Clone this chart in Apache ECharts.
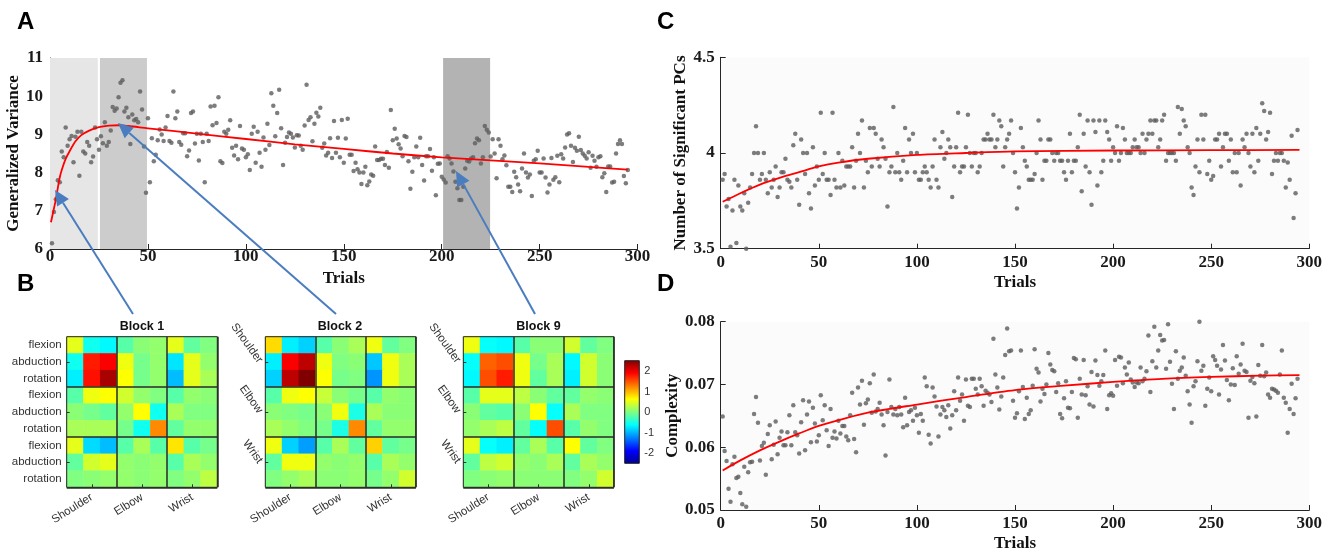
<!DOCTYPE html>
<html><head><meta charset="utf-8">
<script src="https://cdn.jsdelivr.net/npm/echarts@6/dist/echarts.min.js"></script>
<style>html,body{margin:0;padding:0;background:#fff}#chart{width:1336px;height:553px}</style>
</head><body><div id="chart"></div>
<script>
// ---------------- DATA ----------------
const jointNames = ['Shoulder', 'Elbow', 'Wrist'];
const dofNames = ['flexion', 'abduction', 'rotation'];
const xTicks = [0, 50, 100, 150, 200, 250, 300];

// Panel A: generalized variance per trial (trial = index + 1)
const generalizedVariance = [
6.15,6.97,7.3,7.8,7.75,8.55,8.4,9.18,8.7,8.87,
8.96,8.27,8.94,9.07,7.92,9.07,8.55,8.5,8.8,8.7,
8.27,8.42,9.18,8.87,8.6,8.95,8.77,9.32,8.7,8.8,
9.1,9.72,9.62,9.68,9.97,10.35,10.42,9.6,9.7,9.45,
8.75,9.52,9.37,9.4,9.32,10.12,9.65,8.68,7.47,9.42,
7.75,8.9,8.3,8.47,8.85,9.13,9.0,8.83,9.18,9.48,
8.83,8.78,10.12,9.42,9.6,8.8,8.73,9.03,9.03,8.43,
8.58,9.56,9.6,8.76,9.02,8.32,9.02,8.8,7.75,9.02,
8.83,9.73,9.24,9.75,9.3,9.97,8.3,8.25,9.07,9.02,
9.12,9.37,8.65,8.45,8.7,8.35,9.22,8.63,8.6,8.4,
8.48,8.07,9.02,9.2,8.26,9.07,8.52,8.15,8.92,8.6,
9.28,8.72,10.08,9.75,8.95,9.56,10.17,9.16,8.2,8.78,
8.93,9.05,9.02,8.92,8.66,8.98,8.97,8.7,8.6,9.23,
10.3,9.38,9.45,8.82,9.28,9.57,9.47,9.7,8.65,8.76,
8.45,8.52,8.9,8.38,9.35,
8.52,8.91,8.4,9.38,8.26,8.89,9.41,8.47,8.47,
8.04,8.26,8.09,8.0,7.7,8.0,8.15,7.67,7.77,7.95,
7.92,8.68,8.33,8.33,8.36,8.36,8.2,8.54,8.13,9.64,
8.85,9.15,8.89,8.74,8.63,8.43,8.96,8.93,8.3,7.58,
8.02,8.4,8.68,8.4,8.91,8.2,7.79,8.43,8.43,8.62,
8.05,8.4,7.41,8.23,8.24,7.89,7.82,7.74,8.43,8.37,
8.24,8.03,7.76,7.59,7.28,7.28,7.63,8.11,8.31,8.29,
8.37,8.4,8.77,8.89,8.85,8.24,8.4,9.22,9.12,9.05,
8.42,8.87,8.5,7.85,8.87,8.7,8.35,8.45,8.19,7.63,
7.63,7.49,8.02,7.88,7.69,7.51,8.11,8.5,8.0,7.87,
7.95,7.39,8.31,8.35,8.57,8.0,8.0,8.37,7.87,7.48,
7.69,8.38,7.81,7.88,8.44,7.75,8.48,8.37,8.66,9.0,
9.03,8.7,8.28,8.65,8.57,8.94,8.59,8.5,8.44,8.37,
8.53,8.13,8.44,8.31,8.15,8.4,8.43,7.88,7.98,7.49,
8.16,8.16,7.74,7.76,8.5,8.75,8.85,8.75,7.91,7.72,
8.07];
const fitATrials = [0.5,2,3,4,5,6,8,10,13,16,20,25,30,35,40,50,75,100,125,150,175,200,225,250,275,295];
const fitAValues = [6.7,7.06,7.3,7.6,7.88,8.07,8.36,8.56,8.82,8.98,9.1,9.19,9.23,9.24,9.22,9.16,9.02,8.88,8.74,8.62,8.5,8.4,8.32,8.24,8.15,8.08];
// shaded blocks (trial ranges): Block 1, Block 2, Block 9
const blockRanges = [[0, 24.4], [25.5, 49.5], [200.7, 224.7]];

// Panel C: number of significant PCs
const significantPCs = [
3.86,3.89,3.72,3.76,3.51,3.70,3.86,3.53,3.83,3.72,
3.70,3.79,3.50,3.74,3.82,3.89,4.0,4.14,4.0,3.86,
3.89,4.0,3.86,3.79,3.9,3.82,3.86,3.93,3.77,3.82,
3.9,3.9,3.97,3.86,3.85,3.82,4.04,4.1,3.86,3.73,
4.07,4.0,3.89,4.0,3.79,3.71,4.03,3.83,3.93,3.86,
4.21,3.89,4.0,3.86,3.86,3.78,4.21,3.86,3.82,4.0,
3.82,3.96,3.83,3.93,3.93,3.93,4.03,3.82,3.96,4.1,
4.0,4.17,3.82,3.96,3.9,4.13,3.93,4.13,4.1,3.97,
3.93,4.07,4.03,3.97,3.72,3.9,3.93,4.24,3.9,4.0,
3.9,3.86,3.96,4.13,3.9,4.07,4.0,4.1,3.9,4.0,
3.86,3.86,3.9,3.93,3.9,3.86,3.82,3.93,4.07,3.86,
3.82,4.03,4.11,3.97,4.0,4.07,4.03,3.77,3.93,4.03,
4.21,3.9,3.93,3.93,4.03,4.2,4.0,3.93,4.0,4.0,
3.9,3.93,4.0,4.07,4.07,4.1,4.07,
4.07,4.2,4.03,4.07,4.17,4.14,3.93,4.03,4.07,4.1,
4.17,4.0,3.9,3.71,3.82,4.13,4.03,3.96,3.93,3.86,
3.86,3.86,3.89,4.0,4.17,4.07,3.86,3.96,3.96,4.07,
4.07,4.0,3.96,4.0,4.0,3.96,3.96,3.9,3.86,3.96,
4.1,3.9,3.96,3.96,4.03,4.2,3.8,4.1,3.93,4.17,
3.9,3.73,4.17,4.11,3.83,4.17,3.9,3.96,4.17,4.11,
4.07,3.96,4.03,4.0,4.14,3.96,4.0,4.13,4.07,4.0,
4.0,4.0,4.03,4.07,4.03,4.03,4.0,4.1,4.0,4.07,
4.1,4.17,4.1,4.17,4.17,4.03,4.07,4.17,4.2,3.96,
4.0,4.0,4.0,4.0,3.96,4.24,4.1,4.23,4.17,4.14,
4.03,4.0,3.82,3.78,3.93,4.07,3.9,4.2,4.07,4.2,
3.89,3.96,3.86,3.88,4.07,4.07,4.1,3.93,4.03,4.1,
4.1,3.96,4.07,3.9,4.0,3.9,4.0,3.83,4.07,4.03,
4.1,4.0,3.93,4.1,3.9,4.13,3.96,4.1,4.26,4.22,
4.07,4.11,4.21,3.89,3.96,4.0,3.96,4.0,4.0,3.96,
3.82,3.95,3.86,4.09,3.66,3.79,4.12];
const fitCTrials = [1,10,20,30,40,50,60,75,100,125,150,200,250,295];
const fitCValues = [3.745,3.79,3.835,3.87,3.9,3.93,3.95,3.97,3.99,4.0,4.008,4.013,4.015,4.016];

// Panel D: complexity
const complexity = [
0.0649,0.0594,0.0578,0.0534,0.0513,0.0573,0.0585,0.0551,0.0553,0.0527,
0.0509,0.0569,0.0505,0.0560,0.0576,0.0577,0.0653,0.0680,0.0639,0.0579,
0.0602,0.0607,0.0556,0.0621,0.0635,0.0581,0.0604,0.0641,0.0589,0.0615,
0.0625,0.0603,0.0603,0.0624,0.0651,0.0603,0.0667,0.0624,0.0619,0.0590,
0.0640,0.0675,0.0595,0.0652,0.0673,0.0608,0.0663,0.0638,0.0609,0.0619,
0.0683,0.0643,0.0667,0.0627,0.0602,0.0661,0.0615,0.0625,0.0614,0.0642,
0.0622,0.0634,0.0634,0.0617,0.0611,0.0651,0.0687,0.0613,0.0592,0.0695,
0.0668,0.0706,0.0636,0.0670,0.0676,0.0702,0.0655,0.0716,0.0657,0.0661,
0.0671,0.0652,0.0635,0.0587,0.0656,0.0708,0.0664,0.0652,0.0661,0.0651,
0.0664,0.0652,0.0632,0.0679,0.0635,0.0656,0.0659,0.0642,0.0663,0.0651,
0.0623,0.0653,0.0642,0.0711,0.0697,0.0620,0.0606,0.0695,0.0681,0.0665,
0.0617,0.0652,0.0664,0.0659,0.0648,0.0667,0.0630,0.0651,0.0689,0.0659,
0.0711,0.0674,0.0684,0.0642,0.0708,0.0666,0.0664,0.0709,0.0709,0.0693,
0.0684,0.0709,0.0697,0.0666,0.0690,0.0687,0.0684,
0.0672,0.0773,0.0716,0.0695,0.0660,0.0681,0.0711,0.0747,0.0789,0.0753,0.0754,
0.0674,0.0647,0.0654,0.0689,0.0754,0.0696,0.0645,0.0679,0.0653,0.0659,
0.0698,0.0756,0.0725,0.0719,0.0673,0.0693,0.0685,0.0700,0.0750,0.0732,
0.0723,0.0721,0.0688,0.0702,0.0653,0.0646,0.0678,0.0705,0.0663,0.0662,
0.0688,0.0742,0.0740,0.0647,0.0709,0.0684,0.0739,0.0683,0.0697,0.0668,
0.0720,0.0665,0.0738,0.0715,0.0698,0.0705,0.0715,0.0754,0.0661,0.0683,
0.0686,0.0682,0.0739,0.0698,0.0744,0.0743,0.0702,0.0727,0.0716,0.0735,
0.0708,0.0703,0.0696,0.0703,0.0702,0.0727,0.0705,0.0709,0.0721,0.0778,
0.0688,0.0737,0.0792,0.0727,0.0754,0.0779,0.0770,0.0771,0.0725,0.0796,
0.0736,0.0701,0.0661,0.0753,0.0709,0.0722,0.0727,0.0743,0.0714,0.0689,
0.0668,0.0639,0.0697,0.0705,0.0737,0.0800,0.0722,0.0730,0.0666,0.0693,
0.0711,0.0689,0.0745,0.0739,0.0730,0.0684,0.0724,0.0763,0.0738,0.0707,
0.0675,0.0700,0.0726,0.0699,0.0745,0.0717,0.0732,0.0765,0.0722,0.0720,
0.0647,0.0706,0.0712,0.0702,0.0649,0.0731,0.0714,0.0763,0.0713,0.0719,0.0684,
0.0679,0.0693,0.0692,0.0690,0.0687,0.0716,0.0754,0.0679,0.0671,0.0623,
0.0661,0.0701,0.0653,0.0678,0.0709];
const fitDTrials = [1,10,20,30,40,50,60,75,100,125,150,175,200,225,250,275,295];
const fitDValues = [0.0563,0.0579,0.0595,0.0609,0.0622,0.0634,0.0643,0.0655,0.0668,0.0680,0.0691,0.0698,0.0704,0.0709,0.0712,0.0714,0.0715];

// Panel B: 9x9 matrices (rows/cols: Sh flex, Sh abd, Sh rot, El flex, El abd, El rot, Wr flex, Wr abd, Wr rot)
const block1 = [
[0.5,-0.55,-0.65,-0.2,0.05,0.1,0.5,-0.15,0],
[-0.55,1.75,1.9,0.55,-0.05,0.1,-0.75,0.5,0.1],
[-0.7,1.8,2.3,0.62,-0.05,0.1,-0.95,0.5,0.2],
[-0.2,0.55,0.62,0.4,0.1,0,-0.2,0.1,0.05],
[0.05,-0.05,-0.15,0.1,0.62,-0.55,0.2,0,0],
[0.2,0.2,0.2,-0.05,-0.55,1.2,-0.15,0.1,0.1],
[0.5,-0.8,-0.95,-0.2,0.2,-0.2,0.75,-0.2,-0.05],
[-0.15,0.4,0.5,0.1,0.05,0.1,-0.2,0.2,0.1],
[0,0.05,0.1,0.1,0.05,0.1,0,0.1,0.3]];
const block2 = [
[0.8,-0.7,-0.85,-0.2,0.05,0.2,0.55,-0.15,0],
[-0.7,1.9,2.2,0.55,0,0.05,-0.9,0.55,0.2],
[-0.85,2.2,2.5,0.62,-0.05,0,-1.15,0.55,0.2],
[-0.2,0.55,0.62,0.35,0.05,-0.05,-0.2,0.1,0.05],
[0.05,0,-0.05,0.05,0.55,-0.5,0.2,0.05,0.05],
[0.2,0.1,0,-0.05,-0.5,1.2,-0.15,0.1,0.1],
[0.55,-0.85,-1.1,-0.2,0.2,-0.15,0.85,-0.15,-0.05],
[-0.15,0.55,0.55,0.1,0.05,0.1,-0.2,0.2,0.1],
[0,0.1,0.2,0.05,0.05,0.1,-0.05,0.1,0.4]];
const block9 = [
[0.55,-0.6,-0.65,-0.2,0.05,0.05,0.4,-0.15,0],
[-0.6,1.4,1.5,0.55,-0.05,0.2,-0.65,0.4,0.05],
[-0.65,1.5,1.75,0.55,-0.15,0.2,-0.7,0.4,0.05],
[-0.2,0.5,0.5,0.3,0.05,-0.15,-0.15,0.1,0.05],
[0.05,-0.15,-0.2,0.05,0.62,-0.6,0.2,0,0],
[0.1,0.2,0.3,-0.15,-0.6,1.5,-0.2,0.1,0],
[0.5,-0.6,-0.7,-0.15,0.2,-0.2,0.62,-0.15,0],
[-0.15,0.3,0.4,0.1,0.05,0.2,-0.15,0.2,0.1],
[0,0.05,0.1,0.05,0.05,0.05,0,0.1,0.4]];
const colorRange = [-2.5, 2.5];

// ---------------- CHART ----------------
const serif = 'Liberation Serif';
const sans = 'Liberation Sans';
const axisCol = '#262626';
const idx9 = [0,1,2,3,4,5,6,7,8];
const jet = ['#00008f','#0000ff','#0080ff','#00ffff','#80ff80','#ffff00','#ff8000','#ff0000','#800000'];

function tickLabel(margin){return {margin, fontFamily:serif, fontWeight:'bold', fontSize:17, color:'#1a1a1a'};}
function nameStyle(){return {fontFamily:serif, fontWeight:'bold', fontSize:17, color:'#111'};}
function trialsAxis(gi, nameGap, margin){
  return {type:'value', gridIndex:gi, min:xTicks[0], max:xTicks[xTicks.length-1], interval:xTicks[1]-xTicks[0],
    name:'Trials', nameLocation:'middle', nameGap, nameTextStyle:nameStyle(),
    axisLine:{show:true, onZero:false, lineStyle:{color:axisCol, width:1}},
    axisTick:{show:true, inside:true, length:5, lineStyle:{color:axisCol}},
    axisLabel:tickLabel(margin), splitLine:{show:false}};
}
function valueY(gi, min, max, interval, name, nameGap, margin){
  return {type:'value', gridIndex:gi, min, max, interval, name, nameLocation:'middle', nameGap, nameTextStyle:nameStyle(),
    axisLine:{show:true, onZero:false, lineStyle:{color:axisCol, width:1}},
    axisTick:{show:true, inside:true, length:5, lineStyle:{color:axisCol}},
    axisLabel:tickLabel(margin), splitLine:{show:false}};
}
const mid = i => i % 3 === 1;
const sep = i => i === 3 || i === 6;
function heatX(gi){
  return {type:'category', gridIndex:gi, data:idx9, z:6,
    axisLine:{show:false},
    axisTick:{show:true, inside:true, alignWithLabel:true, length:3, interval:mid, lineStyle:{color:'#333'}},
    axisLabel:{interval:mid, formatter:(v,i)=>jointNames[Math.floor(i/3)], rotate:32, margin:9,
      fontFamily:sans, fontSize:11.5, color:'#333'},
    splitLine:{show:true, interval:sep, lineStyle:{color:'#2a2a2a', width:1.5}}};
}
function heatY(gi, jointLabels){
  return {type:'category', gridIndex:gi, data:idx9, inverse:true, z:6,
    axisLine:{show:false},
    axisTick:{show:true, inside:true, alignWithLabel:true, length:3, interval:mid, lineStyle:{color:'#333'}},
    axisLabel: jointLabels
      ? {interval:mid, formatter:(v,i)=>jointNames[Math.floor(i/3)], rotate:-54, margin:5, fontFamily:sans, fontSize:11.5, color:'#333'}
      : {interval:0, formatter:(v,i)=>dofNames[i%3], margin:5, fontFamily:sans, fontSize:11.5, color:'#333'},
    splitLine:{show:true, interval:sep, lineStyle:{color:'#2a2a2a', width:1.5}}};
}
function cells(m){const out=[]; m.forEach((row,r)=>row.forEach((v,c)=>out.push([c,r,v]))); return out;}

const arrowColor = '#4a7dbf';
function arrow(x1,y1,x2,y2){
  const dx=x2-x1, dy=y2-y1, L=Math.hypot(dx,dy), ux=dx/L, uy=dy/L, hl=15, hw=7;
  const bx=x2-ux*hl, by=y2-uy*hl;
  return [
    {type:'line', shape:{x1, y1, x2:bx, y2:by}, style:{stroke:arrowColor, lineWidth:2}, z:100},
    {type:'polygon', shape:{points:[[x2,y2],[bx-uy*hw, by+ux*hw],[bx+uy*hw, by-ux*hw]]}, style:{fill:arrowColor}, z:100}
  ];
}

const heatGrids = [66.7, 265.3, 463.3];
const letterStyle = {fontFamily:sans, fontWeight:'bold', fontSize:24, color:'#000'};
const blockStyle = {fontFamily:sans, fontWeight:'bold', fontSize:12.5, color:'#111'};

const option = {
  animation:false,
  backgroundColor:'#fff',
  title:[
    {text:'A', left:17, top:10, padding:0, textStyle:letterStyle},
    {text:'B', left:17, top:272, padding:0, textStyle:letterStyle},
    {text:'C', left:657, top:10, padding:0, textStyle:letterStyle},
    {text:'D', left:657, top:272, padding:0, textStyle:letterStyle},
    {text:'Block 1', left:142, top:320, padding:0, textAlign:'center', textStyle:blockStyle},
    {text:'Block 2', left:340, top:320, padding:0, textAlign:'center', textStyle:blockStyle},
    {text:'Block 9', left:538.5, top:320, padding:0, textAlign:'center', textStyle:blockStyle}
  ],
  grid:[
    {left:50, top:58, width:587.6, height:191},
    {left:heatGrids[0], top:336.7, width:150.6, height:150.6, show:true, borderColor:'#222', borderWidth:1, backgroundColor:'transparent', z:7},
    {left:heatGrids[1], top:336.7, width:150.6, height:150.6, show:true, borderColor:'#222', borderWidth:1, backgroundColor:'transparent', z:7},
    {left:heatGrids[2], top:336.7, width:150.6, height:150.6, show:true, borderColor:'#222', borderWidth:1, backgroundColor:'transparent', z:7},
    {left:624.7, top:360.7, width:14.6, height:102.6},
    {left:720.7, top:57.3, width:588.6, height:191.4, show:true, backgroundColor:'#fbfbfb', borderWidth:0},
    {left:720.7, top:321.7, width:588.6, height:191.6, show:true, backgroundColor:'#fbfbfb', borderWidth:0}
  ],
  xAxis:[
    trialsAxis(0, 21, -1),
    heatX(1), heatX(2), heatX(3),
    {type:'value', gridIndex:4, min:0, max:1, show:false},
    trialsAxis(5, 25, 5),
    trialsAxis(6, 25, 5)
  ],
  yAxis:[
    valueY(0, 6, 11, 1, 'Generalized Variance', 25, 7),
    heatY(1, false), heatY(2, true), heatY(3, true),
    {type:'value', gridIndex:4, min:colorRange[0], max:colorRange[1], interval:0.5, position:'right',
      axisLine:{show:false}, axisTick:{show:false}, splitLine:{show:false},
      axisLabel:{margin:5, fontFamily:sans, fontSize:11, color:'#333', formatter:v=>Number.isInteger(v)?String(v):''}},
    valueY(5, 3.5, 4.5, 0.5, 'Number of Significant PCs', 31, 6),
    valueY(6, 0.05, 0.08, 0.01, 'Complexity', 38, 6)
  ],
  visualMap:{type:'continuous', min:colorRange[0], max:colorRange[1], show:false, seriesIndex:[3,4,5], inRange:{color:jet}},
  series:[
    {type:'line', xAxisIndex:0, yAxisIndex:0, data:[], z:1, silent:true,
      markArea:{silent:true, data:[
        [{xAxis:blockRanges[0][0], itemStyle:{color:'#e6e6e6'}},{xAxis:blockRanges[0][1]}],
        [{xAxis:blockRanges[1][0], itemStyle:{color:'#cccccc'}},{xAxis:blockRanges[1][1]}],
        [{xAxis:blockRanges[2][0], itemStyle:{color:'#b3b3b3'}},{xAxis:blockRanges[2][1]}]
      ]}},
    {type:'scatter', xAxisIndex:0, yAxisIndex:0, data:generalizedVariance.map((v,i)=>[i+1,v]), symbolSize:4.5, itemStyle:{color:'#5c5c5c'}, z:3},
    {type:'line', xAxisIndex:0, yAxisIndex:0, data:fitATrials.map((t,i)=>[t,fitAValues[i]]), smooth:0.3, showSymbol:false, lineStyle:{color:'#ff0000', width:1.8}, z:4},
    {type:'heatmap', xAxisIndex:1, yAxisIndex:1, data:cells(block1), z:2},
    {type:'heatmap', xAxisIndex:2, yAxisIndex:2, data:cells(block2), z:2},
    {type:'heatmap', xAxisIndex:3, yAxisIndex:3, data:cells(block9), z:2},
    {type:'scatter', xAxisIndex:5, yAxisIndex:5, data:significantPCs.map((v,i)=>[i+1,v]), symbolSize:4.5, itemStyle:{color:'#5c5c5c'}, z:3},
    {type:'line', xAxisIndex:5, yAxisIndex:5, data:fitCTrials.map((t,i)=>[t,fitCValues[i]]), smooth:0.3, showSymbol:false, lineStyle:{color:'#ff0000', width:1.8}, z:4},
    {type:'scatter', xAxisIndex:6, yAxisIndex:6, data:complexity.map((v,i)=>[i+1,v]), symbolSize:4.5, itemStyle:{color:'#5c5c5c'}, z:3},
    {type:'line', xAxisIndex:6, yAxisIndex:6, data:fitDTrials.map((t,i)=>[t,fitDValues[i]]), smooth:0.3, showSymbol:false, lineStyle:{color:'#ff0000', width:1.8}, z:4}
  ],
  graphic:[
    {type:'rect', shape:{x:624.7, y:360.7, width:14.6, height:102.6}, z:50,
      style:{stroke:'#222', lineWidth:1, fill:{type:'linear', x:0, y:0, x2:0, y2:1,
        colorStops: jet.slice().reverse().map((c,i)=>({offset:i/(jet.length-1), color:c}))}}},
    ...arrow(133,314,55,190),
    ...arrow(336,314,118,123),
    ...arrow(535,314,456,171)
  ]
};
const chart = echarts.init(document.getElementById('chart'), null, {renderer:'canvas'});
chart.setOption(option);
</script></body></html>
